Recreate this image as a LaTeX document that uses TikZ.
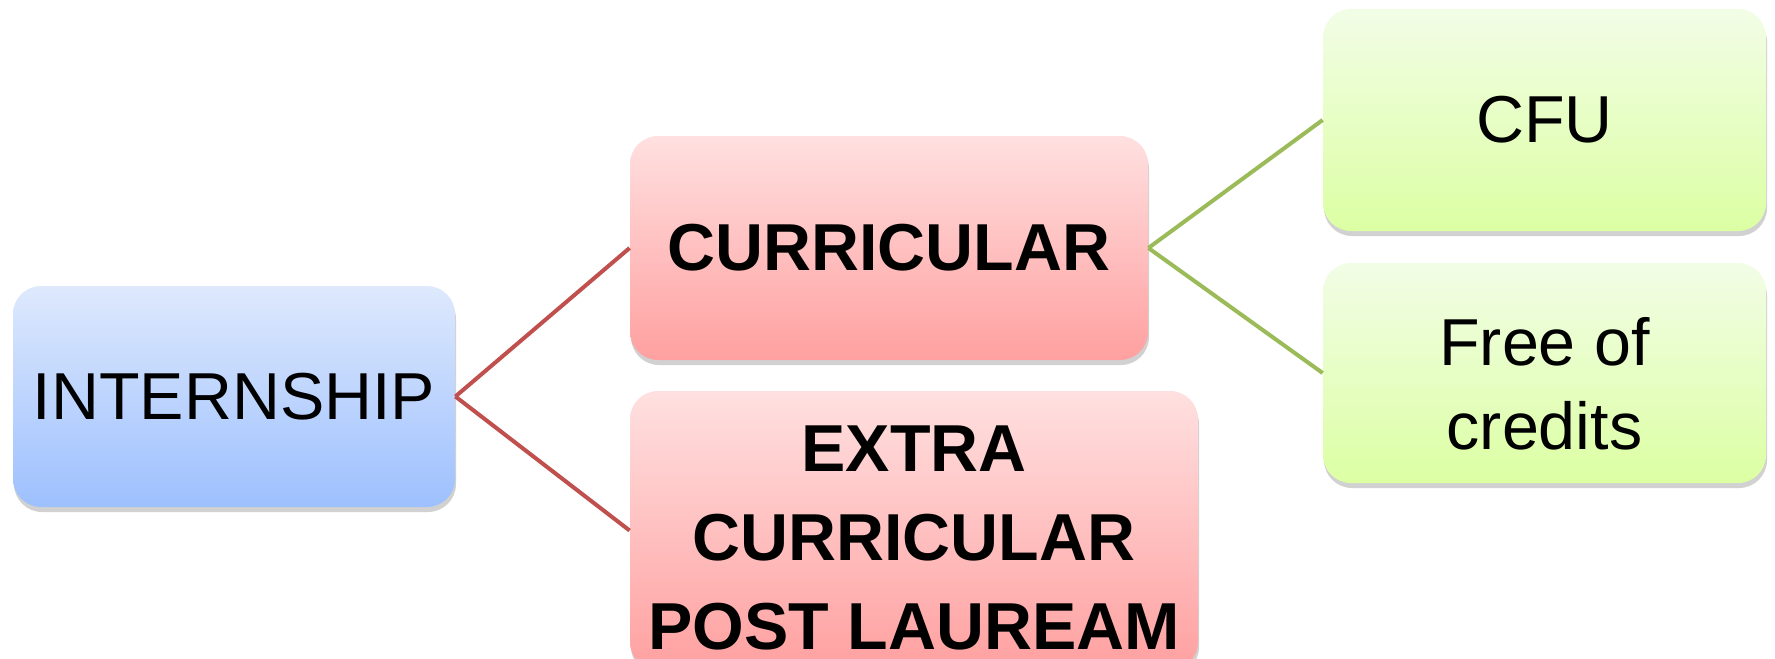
\documentclass[tikz,border=0pt]{standalone}
\usepackage{fontspec}
\setmainfont{Liberation Sans}
\usetikzlibrary{shadows}

\definecolor{rootTop}{HTML}{DEE9FD}
\definecolor{rootBot}{HTML}{9DC0FE}
\definecolor{kindTop}{HTML}{FFE0E0}
\definecolor{kindBot}{HTML}{FFA0A0}
\definecolor{leafTop}{HTML}{F2FDE6}
\definecolor{leafBot}{HTML}{DCFFA3}
\definecolor{kindLink}{HTML}{C0504D}
\definecolor{leafLink}{HTML}{9BBB59}

% taller first line, pushes a block of lines a bit down
\newcommand{\firstrow}[1]{\rule{0pt}{#1}}

\begin{document}
\begin{tikzpicture}[x=0.5pt, y=-0.5pt,
    box/.style={rounded corners=14pt, align=center, inner sep=0pt,
        font=\fontsize{33.2}{42}\selectfont,
        drop shadow={shadow xshift=0.5pt, shadow yshift=-2.5pt, opacity=0.3, fill=black!60}},
    rootbox/.style={box, top color=rootTop, bottom color=rootBot},
    kindbox/.style={box, top color=kindTop, bottom color=kindBot, font=\fontsize{33.2}{44.5}\selectfont\bfseries},
    leafbox/.style={box, top color=leafTop, bottom color=leafBot},
    link/.style={line width=2pt}]
    \useasboundingbox (0,0) rectangle (1775,658);

    % boxes
    \node[rootbox, minimum width=221pt, minimum height=110.5pt] (intern) at (234,396.5) {INTERNSHIP};
    \node[kindbox, minimum width=259pt, minimum height=112pt] (curr) at (889,248) {CURRICULAR};
    \node[kindbox, minimum width=284pt, minimum height=139.5pt] (extra) at (914,530.5) {\firstrow{30pt}EXTRA\\CURRICULAR\\POST LAUREAM};
    \node[leafbox, minimum width=221.5pt, minimum height=111pt] (cfu) at (1544.5,120) {CFU};
    \node[leafbox, minimum width=221.5pt, minimum height=110pt] (free) at (1544.5,373) {\firstrow{35pt}Free of\\credits};

    % links
    \draw[link, kindLink] (intern.east) -- (curr.west);
    \draw[link, kindLink] (intern.east) -- (extra.west);
    \draw[link, leafLink] (curr.east) -- (cfu.west);
    \draw[link, leafLink] (curr.east) -- (free.west);
\end{tikzpicture}
\end{document}
